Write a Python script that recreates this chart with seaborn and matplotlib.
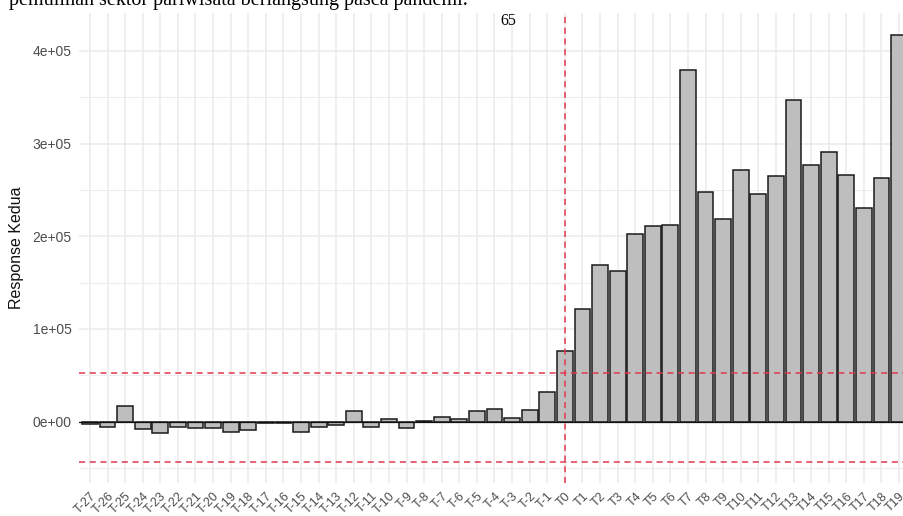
import matplotlib
matplotlib.use("Agg")
import matplotlib.pyplot as plt
import seaborn as sns
import pandas as pd

# ---- data ----
periods = ["T-27", "T-26", "T-25", "T-24", "T-23", "T-22", "T-21", "T-20", "T-19",
           "T-18", "T-17", "T-16", "T-15", "T-14", "T-13", "T-12", "T-11", "T-10",
           "T-9", "T-8", "T-7", "T-6", "T-5", "T-4", "T-3", "T-2", "T-1", "T0",
           "T1", "T2", "T3", "T4", "T5", "T6", "T7", "T8", "T9", "T10", "T11",
           "T12", "T13", "T14", "T15", "T16", "T17", "T18", "T19"]
response = [-2500, -5700, 16500, -7900, -12200, -5700, -6500, -6500, -11500,
            -9400, -1000, -1000, -11300, -5600, -4000, 11900, -5600, 3200,
            -6500, 800, 5400, 2900, 11500, 13700, 4000, 12300, 31700, 76300,
            121400, 169500, 163000, 202000, 211300, 212700, 379800, 247700, 218500,
            271800, 245900, 265300, 347400, 277200, 291300, 266400, 230000, 262800,
            417600]
upper_bound = 52600
lower_bound = -43200
event_period = "T0"
y_ticks = [0, 100000, 200000, 300000, 400000]
y_tick_labels = ["0e+00", "1e+05", "2e+05", "3e+05", "4e+05"]
y_minor = [-50000, 50000, 150000, 250000, 350000]
y_title = "Response Kedua"
page_text = "pemulihan sektor pariwisata berlangsung pasca pandemi."
page_number = "65"

df = pd.DataFrame({"period": periods, "response": response})

W, H = 904, 516
fig = plt.figure(figsize=(W / 100, H / 100), dpi=100)
sns.set_style("white")
plt.rcParams["font.family"] = ["Liberation Sans", "DejaVu Sans"]

# panel spans beyond the right edge (cropped screenshot)
left_px, right_px = 79.4, 909.6
top_px, bottom_px = 13.3, 483.0
ax = fig.add_axes([left_px / W, (H - bottom_px) / H,
                   (right_px - left_px) / W, (bottom_px - top_px) / H])

sns.barplot(data=df, x="period", y="response", order=periods, color="#BEBEBE",
            saturation=1, edgecolor="#1A1A1A", linewidth=1.1, width=0.9,
            errorbar=None, ax=ax, zorder=2)

ax.set_axisbelow(True)
for yv in y_minor:
    ax.axhline(yv, color="#EDEDED", lw=0.8, zorder=0)
ax.grid(True, axis="both", color="#EBEBEB", lw=1.1, zorder=0)

ax.axhline(0, color="#111111", lw=0.9, zorder=3)
red = "#E0384F"
ax.axhline(upper_bound, color=red, lw=1.1, ls=(0, (4, 3)), zorder=4)
ax.axhline(lower_bound, color=red, lw=1.1, ls=(0, (4, 3)), zorder=4)
ax.axvline(periods.index(event_period), color=red, lw=1.1, ls=(0, (4, 3)), zorder=4)

rng = max(response) - lower_bound
ax.set_ylim(lower_bound - 0.05 * rng, max(response) + 0.05 * rng)
ax.set_xlim(-0.6, len(periods) - 0.4)

ax.set_yticks(y_ticks)
ax.set_yticklabels(y_tick_labels)
ax.tick_params(axis="y", length=0, pad=5.5, labelsize=10, labelcolor="#4D4D4D")
ax.tick_params(axis="x", length=0, pad=5, labelsize=9, labelcolor="#4D4D4D")
plt.setp(ax.get_xticklabels(), rotation=45, ha="right", va="top",
         rotation_mode="anchor")

ax.set_xlabel("")
ax.set_ylabel(y_title, fontsize=11.5, color="#111111", labelpad=6)
for s in ax.spines.values():
    s.set_visible(False)

fig.text(468 / W, 1 - 4.5 / H, page_text, ha="right", va="baseline",
         fontsize=14.5, family=["Liberation Serif", "DejaVu Serif"], color="black")
fig.text(508 / W, 1 - 25 / H, page_number, ha="center", va="baseline",
         fontsize=11.5, family=["Liberation Serif", "DejaVu Serif"], color="black")

fig.savefig("out.png", dpi=100)
